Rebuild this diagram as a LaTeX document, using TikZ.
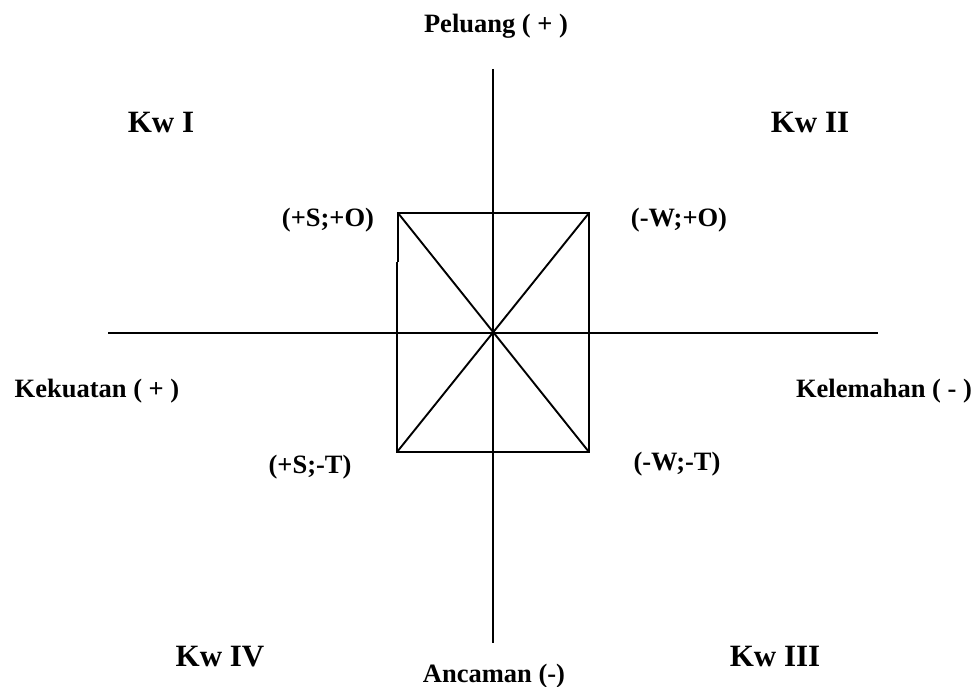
\documentclass[tikz,border=0pt]{standalone}
\usepackage{fontspec}
\setmainfont{Liberation Serif}
\begin{document}
\begin{tikzpicture}[x=1pt,y=1pt,
  axis/.style={line width=1.9pt},
  lbl/.style={font=\fontsize{26.5}{30}\selectfont\bfseries, anchor=base, inner sep=0pt},
  kw/.style={font=\fontsize{31}{35}\selectfont\bfseries, anchor=base, inner sep=0pt}]
\useasboundingbox (0,0) rectangle (979,686);
% axes
\coordinate (O) at (493,353);
\coordinate (top) at (493,617);
\coordinate (bot) at (493,43);
\coordinate (lft) at (108,353);
\coordinate (rgt) at (878,353);
\draw[axis] (top) -- (bot);
\draw[axis] (lft) -- (rgt);
% rectangle
\coordinate (TL) at (398,473);
\coordinate (TR) at (589,473);
\coordinate (BR) at (589,234);
\coordinate (BL) at (397,234);
\coordinate (J1) at (398,424);
\coordinate (J2) at (397,424);
\draw[axis] (J1) -- (TL) -- (TR) -- (BR) -- (BL) -- (J2);
\draw[axis] (TL) -- (BR);
\draw[axis] (TR) -- (BL);
% labels
\node[lbl] (pel) at (496,653) {Peluang ( + )};
\node[lbl] (anc) at (494,4) {Ancaman (-)};
\node[lbl] (kek) at (97,288) {Kekuatan ( + )};
\node[lbl] (kel) at (884,288) {Kelemahan ( - )};
\node[lbl] (so) at (328,459) {(+S;+O)};
\node[lbl] (wo) at (679,459) {(-W;+O)};
\node[lbl] (st) at (310,213) {(+S;-T)};
\node[lbl] (wt) at (677,216) {(-W;-T)};
\node[kw] (k1) at (161,553) {Kw I};
\node[kw] (k2) at (810,553) {Kw II};
\node[kw] (k4) at (220,20) {Kw IV};
\node[kw] (k3) at (775,20) {Kw III};
\end{tikzpicture}
\end{document}
